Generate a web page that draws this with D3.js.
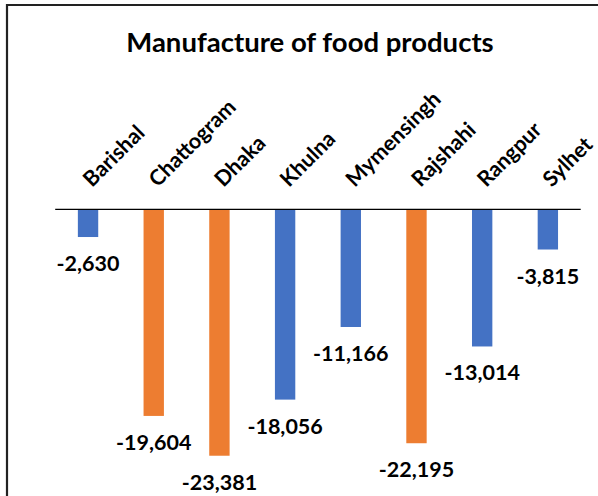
<!DOCTYPE html>
<html>
<head>
<meta charset="utf-8">
<script src="https://cdn.jsdelivr.net/npm/d3@7"></script>
<style>
  html, body { margin: 0; padding: 0; background: #fff; }
  svg { display: block; }
  text { font-family: Lato, "Open Sans", sans-serif; font-weight: 700; fill: #000; }
</style>
</head>
<body>
<svg id="chart" width="598" height="496"></svg>
<script>
const categories = ["Barishal", "Chattogram", "Dhaka", "Khulna", "Mymensingh", "Rajshahi", "Rangpur", "Sylhet"];
const values = [-2630, -19604, -23381, -18056, -11166, -22195, -13014, -3815];
const highlighted = ["Chattogram", "Dhaka", "Rajshahi"];
const title = "Manufacture of food products";

const W = 598, H = 496;
const svg = d3.select("#chart");

// frame (top and left edges visible)
svg.append("line").attr("x1", 6).attr("x2", W).attr("y1", 5).attr("y2", 5)
  .attr("stroke", "#222").attr("stroke-width", 2.2);
svg.append("line").attr("x1", 7).attr("x2", 7).attr("y1", 4).attr("y2", H)
  .attr("stroke", "#222").attr("stroke-width", 2.2);

const x = d3.scaleBand().domain(categories).range([55.2, 580.7])
  .paddingInner(0.69).paddingOuter(0.345);
const y0 = 209.3;
const y = d3.scaleLinear().domain([0, -25000]).range([y0, y0 + 263.5]);

svg.append("text").attr("x", 310).attr("y", 52).attr("text-anchor", "middle")
  .attr("font-size", 27.5).text(title);

const data = categories.map((c, i) => ({ c, v: values[i] }));

svg.append("g").selectAll("rect").data(data).join("rect")
  .attr("x", d => x(d.c))
  .attr("width", x.bandwidth())
  .attr("y", d => y(0))
  .attr("height", d => y(d.v) - y(0))
  .attr("fill", d => highlighted.includes(d.c) ? "#ED7D31" : "#4472C4");

// zero axis line
svg.append("line").attr("x1", x.range()[0]).attr("x2", x.range()[1])
  .attr("y1", y0).attr("y2", y0).attr("stroke", "#000").attr("stroke-width", 1.3);

// category labels, rotated
svg.append("g").selectAll("text").data(data).join("text")
  .attr("transform", d => `translate(${x(d.c) + x.bandwidth() / 2 + 4},188) rotate(-45)`)
  .attr("text-anchor", "start")
  .attr("font-size", 21.5)
  .text(d => d.c);

// data labels
const fmt = d3.format(",");
svg.append("g").selectAll("text").data(data).join("text")
  .attr("x", d => x(d.c) + x.bandwidth() / 2)
  .attr("y", d => y(d.v) + 34)
  .attr("text-anchor", "middle")
  .attr("font-size", 21.5)
  .text(d => fmt(d.v).replace("−", "-"));
</script>
</body>
</html>
